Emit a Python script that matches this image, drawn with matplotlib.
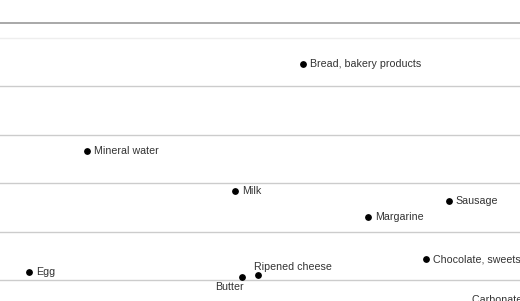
import numpy as np
import matplotlib.pyplot as plt

plt.rcParams['font.family'] = ['Liberation Sans', 'DejaVu Sans']

# food items: x position (arbitrary units) and y value
items = ['Bread, bakery products', 'Mineral water', 'Milk', 'Sausage', 'Margarine',
         'Chocolate, sweets', 'Egg', 'Butter', 'Ripened cheese', 'Carbonated drinks']
xvals = [5.83, 1.67, 4.52, 8.63, 7.08, 8.19, 0.56, 4.65, 4.96, 8.94]
yvals = [4.46, 2.67, 1.83, 1.62, 1.29, 0.43, 0.16, 0.06, 0.10, -0.52]
grid_vals = [0, 1, 2, 3, 4, 5]

fig = plt.figure(figsize=(5.2, 3.01), dpi=100)
ax = fig.add_axes([0, 0, 1, 1])
ax.set_xlim(0, 10)
ax.set_ylim(-21 / 48.5, 280 / 48.5)

for g in grid_vals:
    col = '#eeeeee' if g == 5 else '#cccccc'
    ax.axhline(g, color=col, lw=1, zorder=1)
ax.axhline(257 / 48.5, color='#999999', lw=1.2, zorder=1)

ax.scatter(xvals, yvals, s=15, color='black', zorder=3)

fs = 7.7
for name, x, y in zip(items, xvals, yvals):
    if name == 'Butter':
        off, ha, va = (1.5, -3.5), 'right', 'top'
    elif name == 'Ripened cheese':
        off, ha, va = (-2.5, 2.5), 'left', 'bottom'
    elif name == 'Carbonated drinks':
        off, ha, va = (5, 3.5), 'left', 'center'
    else:
        off, ha, va = (5, 0), 'left', 'center'
    ax.annotate(name, (x, y), xytext=off, textcoords='offset points',
                ha=ha, va=va, fontsize=fs, color='#333333', annotation_clip=False)

ax.axis('off')
fig.savefig('out.png', dpi=100)
